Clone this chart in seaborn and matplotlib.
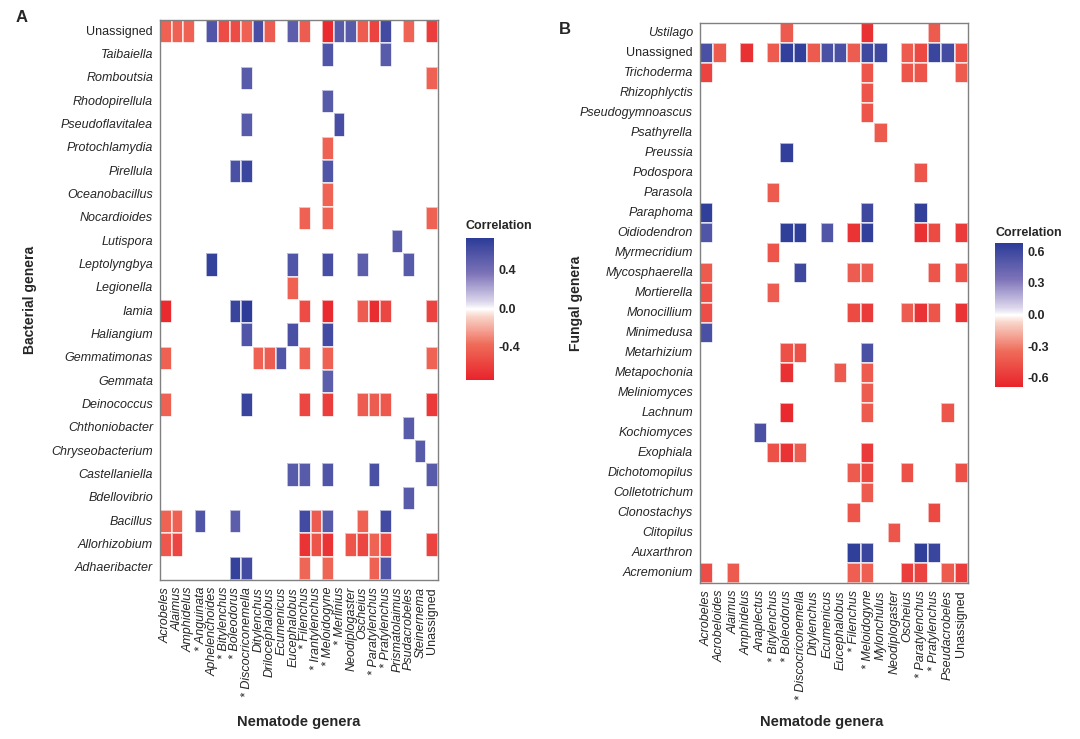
import numpy as np
import pandas as pd
import seaborn as sns
import matplotlib.pyplot as plt
from matplotlib.colors import LinearSegmentedColormap

# ---- Panel A: bacteria vs nematodes ----
nem_a = ["Acrobeles", "Alaimus", "Amphidelus", "Anguinata", "Aphelenchoides",
         "Bitylenchus", "Boleodorus", "Discocriconemella", "Ditylenchus",
         "Drilocephalobus", "Ecumenicus", "Eucephalobus", "Filenchus",
         "Irantylenchus", "Meloidogyne", "Merlinius", "Neodiplogaster",
         "Oscheius", "Paratylenchus", "Pratylenchus", "Prismatolaimus",
         "Psudacrobeles", "Steinernema", "Unassigned"]
starred_a = ["Anguinata", "Bitylenchus", "Boleodorus", "Discocriconemella",
             "Filenchus", "Irantylenchus", "Meloidogyne", "Merlinius",
             "Paratylenchus", "Pratylenchus"]

bact_rows = ["Unassigned", "Taibaiella", "Romboutsia", "Rhodopirellula",
             "Pseudoflavitalea", "Protochlamydia", "Pirellula", "Oceanobacillus",
             "Nocardioides", "Lutispora", "Leptolyngbya", "Legionella", "Iamia",
             "Haliangium", "Gemmatimonas", "Gemmata", "Deinococcus",
             "Chthoniobacter", "Chryseobacterium", "Castellaniella",
             "Bdellovibrio", "Bacillus", "Allorhizobium", "Adhaeribacter"]

# significant correlations only (blank cells are not listed)
bact_vals = [
    {"Acrobeles": -.43, "Alaimus": -.43, "Amphidelus": -.43, "Aphelenchoides": .55,
     "Bitylenchus": -.53, "Boleodorus": -.53, "Discocriconemella": -.43,
     "Ditylenchus": .60, "Drilocephalobus": -.45, "Eucephalobus": .50,
     "Filenchus": -.45, "Meloidogyne": -.70, "Merlinius": .52, "Neodiplogaster": .52,
     "Oscheius": -.45, "Paratylenchus": -.58, "Pratylenchus": .62,
     "Psudacrobeles": -.42, "Unassigned": -.60},
    {"Meloidogyne": .55, "Pratylenchus": .52},
    {"Discocriconemella": .52, "Unassigned": -.43},
    {"Meloidogyne": .52},
    {"Discocriconemella": .52, "Merlinius": .60},
    {"Meloidogyne": -.43},
    {"Boleodorus": .58, "Discocriconemella": .65, "Meloidogyne": .55},
    {"Meloidogyne": -.42},
    {"Filenchus": -.43, "Meloidogyne": -.43, "Unassigned": -.43},
    {"Prismatolaimus": .52},
    {"Aphelenchoides": .68, "Eucephalobus": .55, "Meloidogyne": .60,
     "Oscheius": .50, "Psudacrobeles": .52},
    {"Eucephalobus": -.43},
    {"Acrobeles": -.70, "Boleodorus": .66, "Discocriconemella": .72,
     "Filenchus": -.53, "Meloidogyne": -.70, "Oscheius": -.45,
     "Paratylenchus": -.68, "Pratylenchus": -.56, "Unassigned": -.58},
    {"Discocriconemella": .55, "Eucephalobus": .58, "Meloidogyne": .62},
    {"Acrobeles": -.43, "Ditylenchus": -.43, "Drilocephalobus": -.45,
     "Ecumenicus": .55, "Filenchus": -.43, "Meloidogyne": -.43, "Unassigned": -.42},
    {"Meloidogyne": .50},
    {"Acrobeles": -.43, "Discocriconemella": .66, "Filenchus": -.56,
     "Meloidogyne": -.60, "Oscheius": -.45, "Paratylenchus": -.45,
     "Pratylenchus": -.48, "Unassigned": -.63},
    {"Psudacrobeles": .52},
    {"Steinernema": .52},
    {"Eucephalobus": .52, "Filenchus": .52, "Meloidogyne": .55,
     "Paratylenchus": .58, "Unassigned": .52},
    {"Psudacrobeles": .52},
    {"Acrobeles": -.42, "Alaimus": -.43, "Anguinata": .55, "Boleodorus": .50,
     "Filenchus": .62, "Irantylenchus": -.45, "Meloidogyne": .52,
     "Oscheius": -.43, "Pratylenchus": .62},
    {"Acrobeles": -.48, "Alaimus": -.56, "Filenchus": -.66, "Irantylenchus": -.49,
     "Meloidogyne": -.66, "Neodiplogaster": -.49, "Oscheius": -.56,
     "Paratylenchus": -.42, "Pratylenchus": -.53, "Unassigned": -.58},
    {"Boleodorus": .68, "Discocriconemella": .62, "Filenchus": -.40,
     "Meloidogyne": -.41, "Paratylenchus": -.43, "Pratylenchus": .55},
]

# ---- Panel B: fungi vs nematodes ----
nem_b = ["Acrobeles", "Acrobeloides", "Alaimus", "Amphidelus", "Anaplectus",
         "Bitylenchus", "Boleodorus", "Discocriconemella", "Ditylenchus",
         "Ecumenicus", "Eucephalobus", "Filenchus", "Meloidogyne", "Mylonchulus",
         "Neodiplogaster", "Oscheius", "Paratylenchus", "Pratylenchus",
         "Pseudacrobeles", "Unassigned"]
starred_b = ["Bitylenchus", "Boleodorus", "Discocriconemella", "Filenchus",
             "Meloidogyne", "Paratylenchus", "Pratylenchus"]

fung_rows = ["Ustilago", "Unassigned", "Trichoderma", "Rhizophlyctis",
             "Pseudogymnoascus", "Psathyrella", "Preussia", "Podospora",
             "Parasola", "Paraphoma", "Oidiodendron", "Myrmecridium",
             "Mycosphaerella", "Mortierella", "Monocillium", "Minimedusa",
             "Metarhizium", "Metapochonia", "Meliniomyces", "Lachnum",
             "Kochiomyces", "Exophiala", "Dichotomopilus", "Colletotrichum",
             "Clonostachys", "Clitopilus", "Auxarthron", "Acremonium"]

fung_vals = [
    {"Boleodorus": -.43, "Meloidogyne": -.63, "Pratylenchus": -.43},
    {"Acrobeles": .55, "Acrobeloides": -.43, "Amphidelus": -.63, "Bitylenchus": -.43,
     "Boleodorus": .65, "Discocriconemella": .65, "Ditylenchus": -.43,
     "Ecumenicus": .55, "Eucephalobus": .55, "Filenchus": -.42, "Meloidogyne": .60,
     "Mylonchulus": .60, "Oscheius": -.43, "Paratylenchus": -.51,
     "Pratylenchus": .62, "Pseudacrobeles": .58, "Unassigned": -.48},
    {"Acrobeles": -.53, "Meloidogyne": -.45, "Oscheius": -.45,
     "Paratylenchus": -.45, "Unassigned": -.43},
    {"Meloidogyne": -.45},
    {"Meloidogyne": -.45},
    {"Mylonchulus": -.43},
    {"Boleodorus": .65},
    {"Paratylenchus": -.45},
    {"Bitylenchus": -.43},
    {"Acrobeles": .66, "Meloidogyne": .60, "Paratylenchus": .65},
    {"Acrobeles": .52, "Boleodorus": .66, "Discocriconemella": .66,
     "Ecumenicus": .52, "Filenchus": -.61, "Meloidogyne": .65,
     "Paratylenchus": -.63, "Pratylenchus": -.50, "Unassigned": -.58},
    {"Bitylenchus": -.45},
    {"Acrobeles": -.43, "Discocriconemella": .60, "Filenchus": -.42,
     "Meloidogyne": -.42, "Pratylenchus": -.45, "Unassigned": -.48},
    {"Acrobeles": -.48, "Bitylenchus": -.42},
    {"Acrobeles": -.49, "Filenchus": -.50, "Meloidogyne": -.58, "Oscheius": -.42,
     "Paratylenchus": -.61, "Pratylenchus": -.45, "Unassigned": -.61},
    {"Acrobeles": .55},
    {"Boleodorus": -.48, "Discocriconemella": -.48, "Meloidogyne": .55},
    {"Boleodorus": -.63, "Eucephalobus": -.43, "Meloidogyne": -.43},
    {"Meloidogyne": -.42},
    {"Boleodorus": -.66, "Meloidogyne": -.43, "Pseudacrobeles": -.45},
    {"Anaplectus": .55},
    {"Bitylenchus": -.48, "Boleodorus": -.61, "Discocriconemella": -.42,
     "Meloidogyne": -.58},
    {"Filenchus": -.43, "Meloidogyne": -.51, "Oscheius": -.48, "Unassigned": -.48},
    {"Meloidogyne": -.43},
    {"Filenchus": -.45, "Pratylenchus": -.51},
    {"Neodiplogaster": -.45},
    {"Filenchus": .66, "Meloidogyne": .62, "Paratylenchus": .66, "Pratylenchus": .62},
    {"Acrobeles": -.49, "Alaimus": -.43, "Filenchus": -.41, "Meloidogyne": -.41,
     "Oscheius": -.56, "Paratylenchus": -.53, "Pseudacrobeles": -.43,
     "Unassigned": -.56},
]

sns.set_style("white")
plt.rcParams['font.family'] = ['Liberation Sans', 'DejaVu Sans']

cmap = LinearSegmentedColormap.from_list(
    "corr", [(0.0, "#E8232A"), (0.25, "#EF6C5A"), (0.45, "#F9D6CB"),
             (0.5, "#FFFFFF"), (0.55, "#DDD7EC"), (0.75, "#7D73B8"),
             (1.0, "#2C3C98")])


def to_frame(rows, cols, vals):
    df = pd.DataFrame(vals, index=rows).reindex(columns=cols)
    return df.astype(float)


def draw_panel(ax, cax, df, starred, vmin, vmax, ticks):
    xlabels = ["* " + c if c in starred else c for c in df.columns]
    sns.heatmap(df, ax=ax, cmap=cmap, vmin=vmin, vmax=vmax, cbar_ax=cax,
                xticklabels=xlabels, yticklabels=df.index,
                linewidths=0.3, linecolor=(1, 1, 1, 0.6),
                cbar_kws={"ticks": ticks, "format": "%.1f"})
    ax.set_xlabel("")
    ax.set_ylabel("")
    for s in ax.spines.values():
        s.set_visible(True)
        s.set_color("#808080")
        s.set_linewidth(1.0)
    ax.tick_params(length=3, width=0.8, color="#555555", labelsize=9, pad=2)
    for lab in ax.get_xticklabels():
        lab.set_rotation(90)
        lab.set_style("normal" if lab.get_text() == "Unassigned" else "italic")
    for lab in ax.get_yticklabels():
        lab.set_rotation(0)
        lab.set_style("normal" if lab.get_text() == "Unassigned" else "italic")
    cax.tick_params(direction="in", color="white", length=4, width=0.8,
                    left=True, right=True, labelsize=9, pad=3)
    for lab in cax.get_yticklabels():
        lab.set_fontweight("bold")
    for s in cax.spines.values():
        s.set_visible(False)


df_a = to_frame(bact_rows, nem_a, bact_vals)
df_b = to_frame(fung_rows, nem_b, fung_vals)

W, H = 1080, 739
fig = plt.figure(figsize=(10.8, 7.39), dpi=100)
ax_a = fig.add_axes([160 / W, 1 - 580 / H, 278 / W, 560 / H])
ax_b = fig.add_axes([700 / W, 1 - 583 / H, 268 / W, 560 / H])
cax_a = fig.add_axes([466 / W, 1 - 380 / H, 28 / W, 142 / H])
cax_b = fig.add_axes([995 / W, 1 - 387 / H, 28 / W, 144 / H])

draw_panel(ax_a, cax_a, df_a, starred_a, -0.74, 0.72, [-0.4, 0.0, 0.4])
draw_panel(ax_b, cax_b, df_b, starred_b, -0.69, 0.68, [-0.6, -0.3, 0.0, 0.3, 0.6])

fig.text(466 / W, 1 - 226 / H, "Correlation", ha="left", va="center",
         fontsize=9, fontweight="bold")
fig.text(995 / W, 1 - 233 / H, "Correlation", ha="left", va="center",
         fontsize=9, fontweight="bold")
fig.text(30 / W, 1 - 300 / H, "Bacterial genera", rotation=90, ha="center",
         va="center", fontsize=10, fontweight="bold")
fig.text(576 / W, 1 - 303 / H, "Fungal genera", rotation=90, ha="center",
         va="center", fontsize=10, fontweight="bold")
fig.text(299 / W, 1 - 722 / H, "Nematode genera", ha="center", va="center",
         fontsize=10.5, fontweight="bold")
fig.text(822 / W, 1 - 722 / H, "Nematode genera", ha="center", va="center",
         fontsize=10.5, fontweight="bold")
fig.text(22 / W, 1 - 18 / H, "A", ha="center", va="center", fontsize=12,
         fontweight="bold")
fig.text(565 / W, 1 - 30 / H, "B", ha="center", va="center", fontsize=12,
         fontweight="bold")

fig.savefig("out.png", dpi=100, facecolor="white")
